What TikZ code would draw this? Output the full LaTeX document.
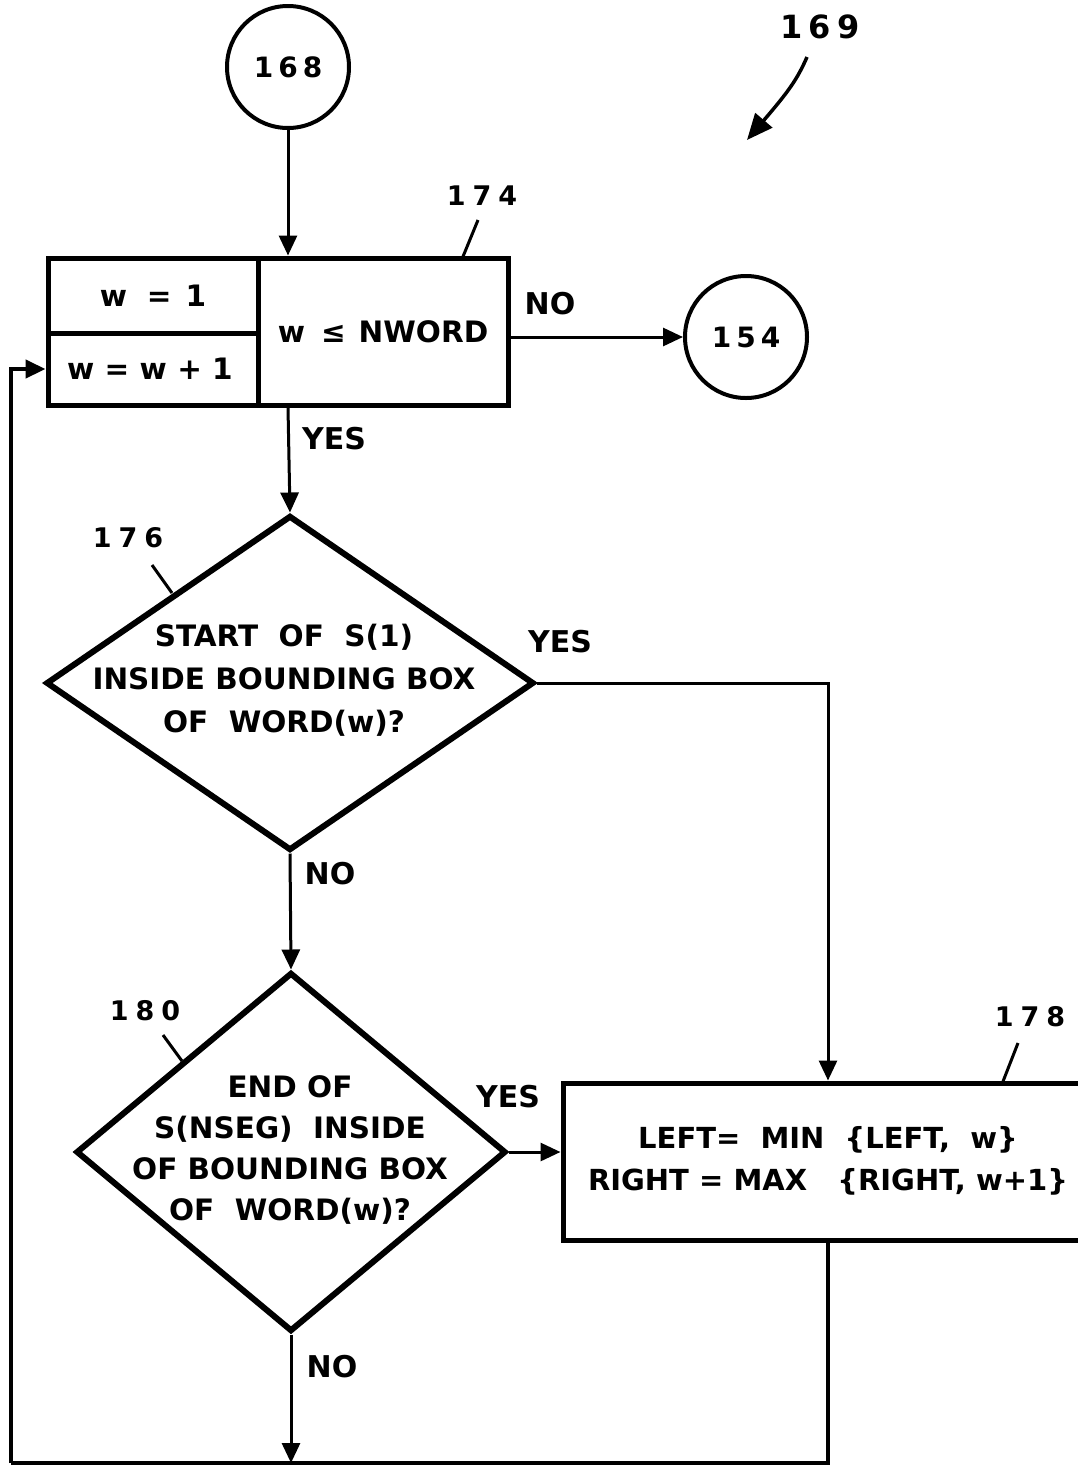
\documentclass[tikz,border=0pt]{standalone}
\usepackage{fontspec}
\setmainfont{DejaVu Sans}
\usetikzlibrary{arrows.meta,shapes.geometric}
\begin{document}
\begin{tikzpicture}[x=1pt,y=-1pt,
  txt/.style={font=\fontsize{29.5}{43}\selectfont\bfseries, inner sep=0pt, align=center},
  yn/.style={font=\fontsize{30}{34}\selectfont\bfseries, inner sep=0pt},
  num/.style={font=\fontsize{27}{30}\selectfont\bfseries, inner sep=0pt},
  conn/.style={circle, draw, line width=4pt, minimum size=122pt, inner sep=0pt,
               font=\fontsize{28}{30}\selectfont\bfseries},
  cell/.style={draw, line width=5pt, inner sep=0pt, font=\fontsize{29.5}{43}\selectfont\bfseries, align=center},
  dec/.style={diamond, draw, line width=6pt, inner sep=0pt},
  arr/.style={line width=3pt, -{Triangle[length=20pt,width=18pt]}},
  flow/.style={line width=4.5pt},
  leader/.style={line width=3pt}
]
\useasboundingbox (0,0) rectangle (1078,1468);

% terminals
\node[conn] (c168) at (288,67) {1\kern5pt6\kern5pt8};
\node[conn] (c154) at (746,337) {1\kern5pt5\kern5pt4};

% box 174
\node[cell, minimum width=210pt, minimum height=75pt] (b174a) at (153,295.5) {w\kern20pt=\kern14pt1};
\node[cell, minimum width=210pt, minimum height=72pt] (b174b) at (153,369) {\kern-6pt w\ =\ w\ +\ 1};
\node[cell, minimum width=250pt, minimum height=147pt] (b174R) at (383,331.5) {w\kern16pt≤\kern13pt NWORD};

% decisions
\node[dec, minimum width=488pt, minimum height=335pt] (d176) at (290,683) {};
\node[txt] (t176) at (284,680) {START\ \ OF\ \ S(1)\\INSIDE BOUNDING BOX\\OF\ \ WORD(w)?};
\node[dec, minimum width=430pt, minimum height=359pt] (d180) at (291,1152) {};
\node[txt, font=\fontsize{29.5}{41}\selectfont\bfseries] (t180) at (290,1150) {END OF\\S(NSEG)\ \ INSIDE\\OF BOUNDING BOX\\OF\ \ WORD(w)?};

% box 178 (runs off the right edge)
\node[cell, minimum width=530pt, minimum height=157pt] (b178) at (828,1161.5) {};
\node[txt, font=\fontsize{29}{42}\selectfont\bfseries] (t178) at (828,1161) {LEFT=\ \ MIN\ \ \{LEFT,\ \ w\}\\RIGHT\ =\ MAX\ \ \ \{RIGHT,\ w+1\}};

% reference numerals
\node[font=\fontsize{32}{36}\selectfont\bfseries, inner sep=0pt] (l169) at (820,27) {1\kern6pt6\kern6pt9};
\node[num] (l174) at (482,196) {1\kern7pt7\kern7pt4};
\node[num] (l176) at (128,538) {1\kern7pt7\kern7pt6};
\node[num] (l180) at (145,1011) {1\kern7pt8\kern7pt0};
\node[num] (l178) at (1030,1017) {1\kern7pt7\kern7pt8};

\coordinate (p174a) at (478,220);
\coordinate (p174b) at (462,259);
\coordinate (p176a) at (152,565);
\coordinate (p176b) at (172,593);
\coordinate (p180a) at (163,1035);
\coordinate (p180b) at (182,1061);
\coordinate (p178a) at (1018,1043);
\coordinate (p178b) at (1002,1084);
\draw[leader] (p174a) -- (p174b);
\draw[leader] (p176a) -- (p176b);
\draw[leader] (p180a) -- (p180b);
\draw[leader] (p178a) -- (p178b);

% 169 pointer
\coordinate (q169a) at (807,57);
\coordinate (q169b) at (747,140);
\draw[line width=3.5pt, -{Triangle[length=26pt,width=22pt]}] (q169a) .. controls (797,80) and (788,92) .. (q169b);

% branch labels
\node[yn] (yn1) at (550,304) {NO};
\node[yn] (yn2) at (334,439) {YES};
\node[yn] (yn3) at (560,642) {YES};
\node[yn] (yn4) at (330,874) {NO};
\node[yn] (yn5) at (508,1097) {YES};
\node[yn] (yn6) at (332,1367) {NO};

% connectors
\draw[arr] (c168.south) -- (c168.south |- b174R.north);
\draw[arr] (b174R.east |- c154.west) -- (c154.west);
\draw[arr] (c168.south |- b174R.south) -- (d176.north);
\draw[arr] (d176.east) -| (b178.north);
\draw[arr] (d176.south) -- (d180.north);
\draw[arr] (d180.east) -- (b178.west |- d180.east);

\coordinate (cBL) at (11,1463);
\draw[flow] (b178.south) |- (cBL);
\draw[flow, -{Triangle[length=20pt,width=18pt]}] (cBL) |- (b174b.west);
\draw[arr] (d180.south) -- (d180.south |- cBL);
\end{tikzpicture}
\end{document}
